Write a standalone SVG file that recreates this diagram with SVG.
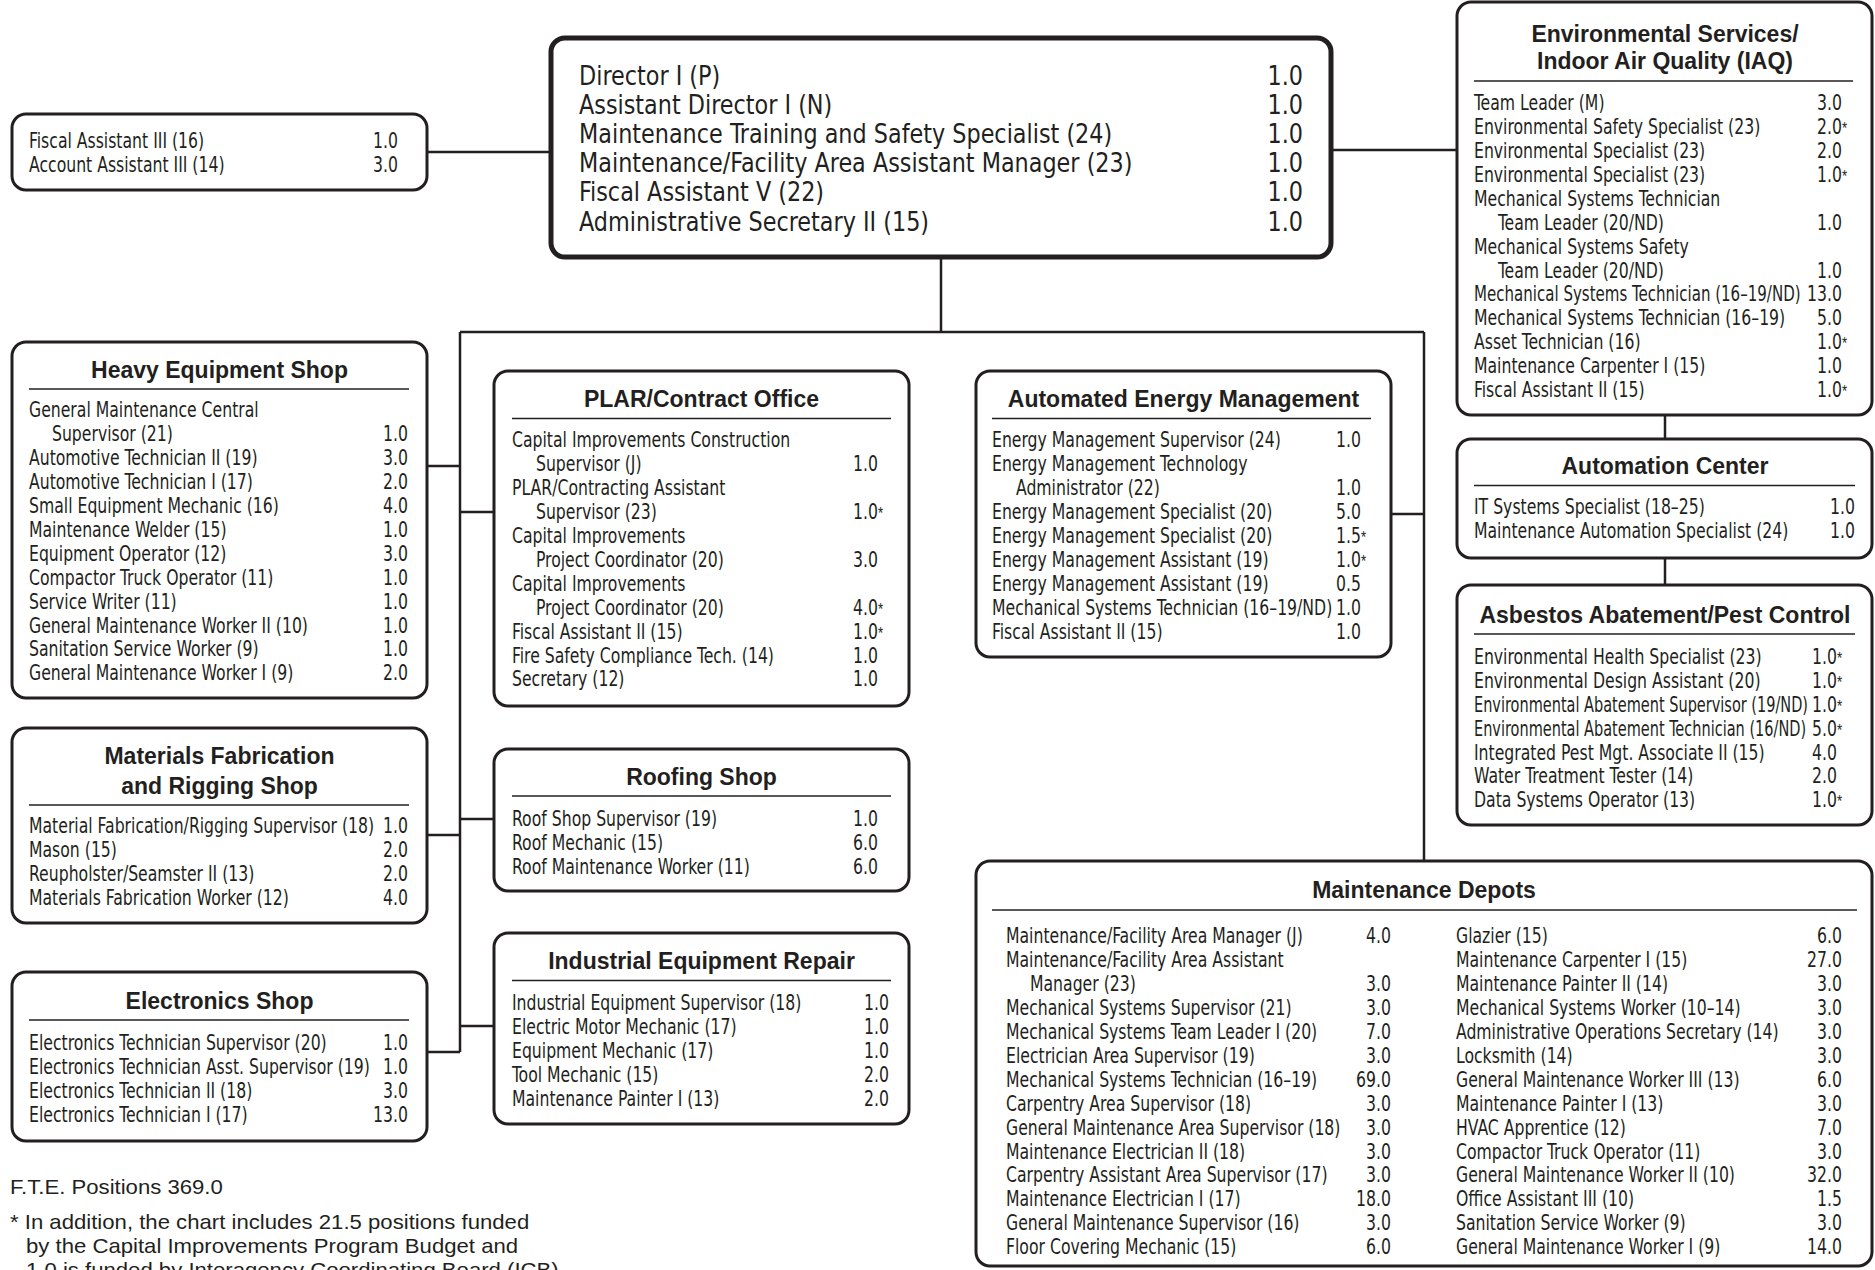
<svg xmlns="http://www.w3.org/2000/svg" width="1875" height="1270" viewBox="0 0 1875 1270">
<style>
.box{fill:#fff;stroke:#231f20;stroke-width:3}
.mainbox{fill:#fff;stroke:#231f20;stroke-width:5}
.rule{stroke:#231f20;stroke-width:1.5}
.conn{fill:none;stroke:#231f20;stroke-width:2.5}
text{fill:#231f20}
.t{font-family:"Liberation Sans Narrow","Arial Narrow","DejaVu Sans Condensed","Liberation Sans",sans-serif;font-stretch:condensed;font-size:21px}
.v{font-family:"Liberation Sans Narrow","Arial Narrow","DejaVu Sans Condensed","Liberation Sans",sans-serif;font-stretch:condensed;font-size:21px;text-anchor:end}
.a{font-family:"Liberation Sans",sans-serif;font-size:16px}
.m{font-family:"Liberation Sans Narrow","Arial Narrow","DejaVu Sans Condensed","Liberation Sans",sans-serif;font-stretch:condensed;font-size:26px}
.mv{font-family:"Liberation Sans Narrow","Arial Narrow","DejaVu Sans Condensed","Liberation Sans",sans-serif;font-stretch:condensed;font-size:26px;text-anchor:end}
.h{font-family:"Liberation Sans",sans-serif;font-weight:bold;font-size:23px;text-anchor:middle}
.f{font-family:"Liberation Sans",sans-serif;font-size:20.5px}
</style>

<g id="connectors">
<path class="conn" d="M427 152H551"/>
<path class="conn" d="M1331 150H1457"/>
<path class="conn" d="M941 257V332"/>
<path class="conn" d="M460 332H1424"/>
<path class="conn" d="M460 332V1052"/>
<path class="conn" d="M1424 332V861"/>
<path class="conn" d="M427 466H460"/>
<path class="conn" d="M427 835H460"/>
<path class="conn" d="M427 1052H460"/>
<path class="conn" d="M460 512H494"/>
<path class="conn" d="M460 819H494"/>
<path class="conn" d="M460 1026H494"/>
<path class="conn" d="M1391 514H1424"/>
<path class="conn" d="M1665 415V439"/>
<path class="conn" d="M1665 558V585"/>
</g>

<g id="fiscal">
<rect class="box" x="12" y="114" width="415" height="76" rx="14"/>
<g transform="translate(29 0) scale(0.83 1)">
<text class="t" x="0" y="148.5">Fiscal Assistant III (16)</text>
<text class="t" x="0" y="172.5">Account Assistant III (14)</text>
</g>
<g transform="translate(398 0) scale(0.83 1)">
<text class="v" x="0" y="148.5">1.0</text>
<text class="v" x="0" y="172.5">3.0</text>
</g>
</g>

<g id="director">
<rect class="mainbox" x="551" y="38" width="780" height="219" rx="14"/>
<g transform="translate(579 0) scale(0.955 1)">
<text class="m" x="0" y="85.5">Director I (P)</text>
<text class="m" x="0" y="114.5">Assistant Director I (N)</text>
<text class="m" x="0" y="143.5">Maintenance Training and Safety Specialist (24)</text>
<text class="m" x="0" y="172.5">Maintenance/Facility Area Assistant Manager (23)</text>
<text class="m" x="0" y="201.5">Fiscal Assistant V (22)</text>
<text class="m" x="0" y="231">Administrative Secretary II (15)</text>
</g>
<g transform="translate(1303 0) scale(0.955 1)">
<text class="mv" x="0" y="85.5">1.0</text>
<text class="mv" x="0" y="114.5">1.0</text>
<text class="mv" x="0" y="143.5">1.0</text>
<text class="mv" x="0" y="172.5">1.0</text>
<text class="mv" x="0" y="201.5">1.0</text>
<text class="mv" x="0" y="231">1.0</text>
</g>
</g>

<g id="env-services">
<rect class="box" x="1457" y="2" width="415" height="413" rx="14"/>
<text class="h" x="1665" y="41.5">Environmental Services/</text>
<text class="h" x="1665" y="69">Indoor Air Quality (IAQ)</text>
<line class="rule" x1="1474" y1="81" x2="1853" y2="81"/>
<g transform="translate(1474 0) scale(0.83 1)">
<text class="t" x="0" y="110.3">Team Leader (M)</text>
<text class="t" x="0" y="134.2">Environmental Safety Specialist (23)</text>
<text class="t" x="0" y="158.1">Environmental Specialist (23)</text>
<text class="t" x="0" y="182">Environmental Specialist (23)</text>
<text class="t" x="0" y="205.9">Mechanical Systems Technician</text>
<text class="t" x="28.9" y="229.8">Team Leader (20/ND)</text>
<text class="t" x="0" y="253.7">Mechanical Systems Safety</text>
<text class="t" x="28.9" y="277.6">Team Leader (20/ND)</text>
<g transform="scale(0.96 1)"><text class="t" x="0" y="301.5">Mechanical Systems Technician (16–19/ND)</text></g>
<text class="t" x="0" y="325.4">Mechanical Systems Technician (16–19)</text>
<text class="t" x="0" y="349.3">Asset Technician (16)</text>
<text class="t" x="0" y="373.2">Maintenance Carpenter I (15)</text>
<text class="t" x="0" y="397.1">Fiscal Assistant II (15)</text>
</g>
<g transform="translate(1842 0) scale(0.83 1)">
<text class="v" x="0" y="110.3">3.0</text>
<text class="v" x="0" y="134.2">2.0</text><text class="a" x="0" y="134.2">*</text>
<text class="v" x="0" y="158.1">2.0</text>
<text class="v" x="0" y="182">1.0</text><text class="a" x="0" y="182">*</text>
<text class="v" x="0" y="229.8">1.0</text>
<text class="v" x="0" y="277.6">1.0</text>
<text class="v" x="0" y="301.5">13.0</text>
<text class="v" x="0" y="325.4">5.0</text>
<text class="v" x="0" y="349.3">1.0</text><text class="a" x="0" y="349.3">*</text>
<text class="v" x="0" y="373.2">1.0</text>
<text class="v" x="0" y="397.1">1.0</text><text class="a" x="0" y="397.1">*</text>
</g>
</g>

<g id="automation-center">
<rect class="box" x="1457" y="439" width="415" height="119" rx="14"/>
<text class="h" x="1665" y="474">Automation Center</text>
<line class="rule" x1="1474" y1="485.5" x2="1855" y2="485.5"/>
<g transform="translate(1474 0) scale(0.83 1)">
<text class="t" x="0" y="514.5">IT Systems Specialist (18–25)</text>
<text class="t" x="0" y="538.4">Maintenance Automation Specialist (24)</text>
</g>
<g transform="translate(1855 0) scale(0.83 1)">
<text class="v" x="0" y="514.5">1.0</text>
<text class="v" x="0" y="538.4">1.0</text>
</g>
</g>

<g id="asbestos">
<rect class="box" x="1457" y="585" width="415" height="240" rx="14"/>
<text class="h" x="1665" y="623">Asbestos Abatement/Pest Control</text>
<line class="rule" x1="1474" y1="634" x2="1855" y2="634"/>
<g transform="translate(1474 0) scale(0.83 1)">
<text class="t" x="0" y="664">Environmental Health Specialist (23)</text>
<text class="t" x="0" y="687.9">Environmental Design Assistant (20)</text>
<g transform="scale(0.925 1)">
<text class="t" x="0" y="711.8">Environmental Abatement Supervisor (19/ND)</text>
<text class="t" x="0" y="735.7">Environmental Abatement Technician (16/ND)</text>
</g>
<text class="t" x="0" y="759.6">Integrated Pest Mgt. Associate II (15)</text>
<text class="t" x="0" y="783.5">Water Treatment Tester (14)</text>
<text class="t" x="0" y="807.4">Data Systems Operator (13)</text>
</g>
<g transform="translate(1837 0) scale(0.83 1)">
<text class="v" x="0" y="664">1.0</text><text class="a" x="0" y="664">*</text>
<text class="v" x="0" y="687.9">1.0</text><text class="a" x="0" y="687.9">*</text>
<text class="v" x="0" y="711.8">1.0</text><text class="a" x="0" y="711.8">*</text>
<text class="v" x="0" y="735.7">5.0</text><text class="a" x="0" y="735.7">*</text>
<text class="v" x="0" y="759.6">4.0</text>
<text class="v" x="0" y="783.5">2.0</text>
<text class="v" x="0" y="807.4">1.0</text><text class="a" x="0" y="807.4">*</text>
</g>
</g>

<g id="heavy-equipment">
<rect class="box" x="12" y="342" width="415" height="356" rx="14"/>
<text class="h" x="219.5" y="378">Heavy Equipment Shop</text>
<line class="rule" x1="29" y1="389" x2="409" y2="389"/>
<g transform="translate(29 0) scale(0.83 1)">
<text class="t" x="0" y="417.5">General Maintenance Central</text>
<text class="t" x="27.7" y="441.4">Supervisor (21)</text>
<text class="t" x="0" y="465.3">Automotive Technician II (19)</text>
<text class="t" x="0" y="489.2">Automotive Technician I (17)</text>
<text class="t" x="0" y="513.1">Small Equipment Mechanic (16)</text>
<text class="t" x="0" y="537">Maintenance Welder (15)</text>
<text class="t" x="0" y="560.9">Equipment Operator (12)</text>
<text class="t" x="0" y="584.8">Compactor Truck Operator (11)</text>
<text class="t" x="0" y="608.7">Service Writer (11)</text>
<text class="t" x="0" y="632.6">General Maintenance Worker II (10)</text>
<text class="t" x="0" y="656.5">Sanitation Service Worker (9)</text>
<text class="t" x="0" y="680.4">General Maintenance Worker I (9)</text>
</g>
<g transform="translate(408 0) scale(0.83 1)">
<text class="v" x="0" y="441.4">1.0</text>
<text class="v" x="0" y="465.3">3.0</text>
<text class="v" x="0" y="489.2">2.0</text>
<text class="v" x="0" y="513.1">4.0</text>
<text class="v" x="0" y="537">1.0</text>
<text class="v" x="0" y="560.9">3.0</text>
<text class="v" x="0" y="584.8">1.0</text>
<text class="v" x="0" y="608.7">1.0</text>
<text class="v" x="0" y="632.6">1.0</text>
<text class="v" x="0" y="656.5">1.0</text>
<text class="v" x="0" y="680.4">2.0</text>
</g>
</g>

<g id="materials-fabrication">
<rect class="box" x="12" y="728" width="415" height="195" rx="14"/>
<text class="h" x="219.5" y="764">Materials Fabrication</text>
<text class="h" x="219.5" y="794">and Rigging Shop</text>
<line class="rule" x1="29" y1="805" x2="409" y2="805"/>
<g transform="translate(29 0) scale(0.83 1)">
<text class="t" x="0" y="833.5">Material Fabrication/Rigging Supervisor (18)</text>
<text class="t" x="0" y="857.4">Mason (15)</text>
<text class="t" x="0" y="881.3">Reupholster/Seamster II (13)</text>
<text class="t" x="0" y="905.2">Materials Fabrication Worker (12)</text>
</g>
<g transform="translate(408 0) scale(0.83 1)">
<text class="v" x="0" y="833.5">1.0</text>
<text class="v" x="0" y="857.4">2.0</text>
<text class="v" x="0" y="881.3">2.0</text>
<text class="v" x="0" y="905.2">4.0</text>
</g>
</g>

<g id="electronics">
<rect class="box" x="12" y="972" width="415" height="169" rx="14"/>
<text class="h" x="219.5" y="1009">Electronics Shop</text>
<line class="rule" x1="29" y1="1020" x2="409" y2="1020"/>
<g transform="translate(29 0) scale(0.83 1)">
<text class="t" x="0" y="1050.5">Electronics Technician Supervisor (20)</text>
<text class="t" x="0" y="1074.4">Electronics Technician Asst. Supervisor (19)</text>
<text class="t" x="0" y="1098.3">Electronics Technician II (18)</text>
<text class="t" x="0" y="1122.2">Electronics Technician I (17)</text>
</g>
<g transform="translate(408 0) scale(0.83 1)">
<text class="v" x="0" y="1050.5">1.0</text>
<text class="v" x="0" y="1074.4">1.0</text>
<text class="v" x="0" y="1098.3">3.0</text>
<text class="v" x="0" y="1122.2">13.0</text>
</g>
</g>

<g id="plar-contract">
<rect class="box" x="494" y="371" width="415" height="335" rx="14"/>
<text class="h" x="701.5" y="407">PLAR/Contract Office</text>
<line class="rule" x1="512" y1="418.5" x2="891" y2="418.5"/>
<g transform="translate(512 0) scale(0.83 1)">
<text class="t" x="0" y="447.5">Capital Improvements Construction</text>
<text class="t" x="28.9" y="471.4">Supervisor (J)</text>
<text class="t" x="0" y="495.3">PLAR/Contracting Assistant</text>
<text class="t" x="28.9" y="519.2">Supervisor (23)</text>
<text class="t" x="0" y="543.1">Capital Improvements</text>
<text class="t" x="28.9" y="567">Project Coordinator (20)</text>
<text class="t" x="0" y="590.9">Capital Improvements</text>
<text class="t" x="28.9" y="614.8">Project Coordinator (20)</text>
<text class="t" x="0" y="638.7">Fiscal Assistant II (15)</text>
<text class="t" x="0" y="662.6">Fire Safety Compliance Tech. (14)</text>
<text class="t" x="0" y="686.5">Secretary (12)</text>
</g>
<g transform="translate(878 0) scale(0.83 1)">
<text class="v" x="0" y="471.4">1.0</text>
<text class="v" x="0" y="519.2">1.0</text><text class="a" x="0" y="519.2">*</text>
<text class="v" x="0" y="567">3.0</text>
<text class="v" x="0" y="614.8">4.0</text><text class="a" x="0" y="614.8">*</text>
<text class="v" x="0" y="638.7">1.0</text><text class="a" x="0" y="638.7">*</text>
<text class="v" x="0" y="662.6">1.0</text>
<text class="v" x="0" y="686.5">1.0</text>
</g>
</g>

<g id="roofing">
<rect class="box" x="494" y="749" width="415" height="142" rx="14"/>
<text class="h" x="701.5" y="785">Roofing Shop</text>
<line class="rule" x1="512" y1="796" x2="891" y2="796"/>
<g transform="translate(512 0) scale(0.83 1)">
<text class="t" x="0" y="826.5">Roof Shop Supervisor (19)</text>
<text class="t" x="0" y="850.4">Roof Mechanic (15)</text>
<text class="t" x="0" y="874.3">Roof Maintenance Worker (11)</text>
</g>
<g transform="translate(878 0) scale(0.83 1)">
<text class="v" x="0" y="826.5">1.0</text>
<text class="v" x="0" y="850.4">6.0</text>
<text class="v" x="0" y="874.3">6.0</text>
</g>
</g>

<g id="industrial-equipment">
<rect class="box" x="494" y="933" width="415" height="191" rx="14"/>
<text class="h" x="701.5" y="969">Industrial Equipment Repair</text>
<line class="rule" x1="512" y1="980.5" x2="891" y2="980.5"/>
<g transform="translate(512 0) scale(0.83 1)">
<text class="t" x="0" y="1010.5">Industrial Equipment Supervisor (18)</text>
<text class="t" x="0" y="1034.4">Electric Motor Mechanic (17)</text>
<text class="t" x="0" y="1058.3">Equipment Mechanic (17)</text>
<text class="t" x="0" y="1082.2">Tool Mechanic (15)</text>
<text class="t" x="0" y="1106.1">Maintenance Painter I (13)</text>
</g>
<g transform="translate(889 0) scale(0.83 1)">
<text class="v" x="0" y="1010.5">1.0</text>
<text class="v" x="0" y="1034.4">1.0</text>
<text class="v" x="0" y="1058.3">1.0</text>
<text class="v" x="0" y="1082.2">2.0</text>
<text class="v" x="0" y="1106.1">2.0</text>
</g>
</g>

<g id="energy-management">
<rect class="box" x="976" y="371" width="415" height="286" rx="14"/>
<text class="h" x="1183.5" y="407">Automated Energy Management</text>
<line class="rule" x1="992" y1="418.5" x2="1371" y2="418.5"/>
<g transform="translate(992 0) scale(0.83 1)">
<text class="t" x="0" y="447.5">Energy Management Supervisor (24)</text>
<text class="t" x="0" y="471.4">Energy Management Technology</text>
<text class="t" x="28.9" y="495.3">Administrator (22)</text>
<text class="t" x="0" y="519.2">Energy Management Specialist (20)</text>
<text class="t" x="0" y="543.1">Energy Management Specialist (20)</text>
<text class="t" x="0" y="567">Energy Management Assistant (19)</text>
<text class="t" x="0" y="590.9">Energy Management Assistant (19)</text>
<text class="t" x="0" y="614.8">Mechanical Systems Technician (16–19/ND)</text>
<text class="t" x="0" y="638.7">Fiscal Assistant II (15)</text>
</g>
<g transform="translate(1361 0) scale(0.83 1)">
<text class="v" x="0" y="447.5">1.0</text>
<text class="v" x="0" y="495.3">1.0</text>
<text class="v" x="0" y="519.2">5.0</text>
<text class="v" x="0" y="543.1">1.5</text><text class="a" x="0" y="543.1">*</text>
<text class="v" x="0" y="567">1.0</text><text class="a" x="0" y="567">*</text>
<text class="v" x="0" y="590.9">0.5</text>
<text class="v" x="0" y="614.8">1.0</text>
<text class="v" x="0" y="638.7">1.0</text>
</g>
</g>

<g id="maintenance-depots">
<rect class="box" x="976" y="861" width="896" height="405" rx="14"/>
<text class="h" x="1424" y="898">Maintenance Depots</text>
<line class="rule" x1="992" y1="910" x2="1857" y2="910"/>
<g transform="translate(1006 0) scale(0.83 1)">
<text class="t" x="0" y="943.5">Maintenance/Facility Area Manager (J)</text>
<text class="t" x="0" y="967.4">Maintenance/Facility Area Assistant</text>
<text class="t" x="28.9" y="991.3">Manager (23)</text>
<text class="t" x="0" y="1015.2">Mechanical Systems Supervisor (21)</text>
<text class="t" x="0" y="1039.1">Mechanical Systems Team Leader I (20)</text>
<text class="t" x="0" y="1063">Electrician Area Supervisor (19)</text>
<text class="t" x="0" y="1086.9">Mechanical Systems Technician (16–19)</text>
<text class="t" x="0" y="1110.8">Carpentry Area Supervisor (18)</text>
<text class="t" x="0" y="1134.7">General Maintenance Area Supervisor (18)</text>
<text class="t" x="0" y="1158.6">Maintenance Electrician II (18)</text>
<text class="t" x="0" y="1182.5">Carpentry Assistant Area Supervisor (17)</text>
<text class="t" x="0" y="1206.4">Maintenance Electrician I (17)</text>
<text class="t" x="0" y="1230.3">General Maintenance Supervisor (16)</text>
<text class="t" x="0" y="1254.2">Floor Covering Mechanic (15)</text>
</g>
<g transform="translate(1391 0) scale(0.83 1)">
<text class="v" x="0" y="943.5">4.0</text>
<text class="v" x="0" y="991.3">3.0</text>
<text class="v" x="0" y="1015.2">3.0</text>
<text class="v" x="0" y="1039.1">7.0</text>
<text class="v" x="0" y="1063">3.0</text>
<text class="v" x="0" y="1086.9">69.0</text>
<text class="v" x="0" y="1110.8">3.0</text>
<text class="v" x="0" y="1134.7">3.0</text>
<text class="v" x="0" y="1158.6">3.0</text>
<text class="v" x="0" y="1182.5">3.0</text>
<text class="v" x="0" y="1206.4">18.0</text>
<text class="v" x="0" y="1230.3">3.0</text>
<text class="v" x="0" y="1254.2">6.0</text>
</g>
<g transform="translate(1456 0) scale(0.83 1)">
<text class="t" x="0" y="943.5">Glazier (15)</text>
<text class="t" x="0" y="967.4">Maintenance Carpenter I (15)</text>
<text class="t" x="0" y="991.3">Maintenance Painter II (14)</text>
<text class="t" x="0" y="1015.2">Mechanical Systems Worker (10–14)</text>
<text class="t" x="0" y="1039.1">Administrative Operations Secretary (14)</text>
<text class="t" x="0" y="1063">Locksmith (14)</text>
<text class="t" x="0" y="1086.9">General Maintenance Worker III (13)</text>
<text class="t" x="0" y="1110.8">Maintenance Painter I (13)</text>
<text class="t" x="0" y="1134.7">HVAC Apprentice (12)</text>
<text class="t" x="0" y="1158.6">Compactor Truck Operator (11)</text>
<text class="t" x="0" y="1182.5">General Maintenance Worker II (10)</text>
<text class="t" x="0" y="1206.4">Office Assistant III (10)</text>
<text class="t" x="0" y="1230.3">Sanitation Service Worker (9)</text>
<text class="t" x="0" y="1254.2">General Maintenance Worker I (9)</text>
</g>
<g transform="translate(1842 0) scale(0.83 1)">
<text class="v" x="0" y="943.5">6.0</text>
<text class="v" x="0" y="967.4">27.0</text>
<text class="v" x="0" y="991.3">3.0</text>
<text class="v" x="0" y="1015.2">3.0</text>
<text class="v" x="0" y="1039.1">3.0</text>
<text class="v" x="0" y="1063">3.0</text>
<text class="v" x="0" y="1086.9">6.0</text>
<text class="v" x="0" y="1110.8">3.0</text>
<text class="v" x="0" y="1134.7">7.0</text>
<text class="v" x="0" y="1158.6">3.0</text>
<text class="v" x="0" y="1182.5">32.0</text>
<text class="v" x="0" y="1206.4">1.5</text>
<text class="v" x="0" y="1230.3">3.0</text>
<text class="v" x="0" y="1254.2">14.0</text>
</g>
</g>

<g id="footnote">
<g transform="translate(10 0) scale(1.08 1)">
<text class="f" x="0" y="1194">F.T.E. Positions 369.0</text>
<text class="f" x="0" y="1229">* In addition, the chart includes 21.5 positions funded</text>
<text class="f" x="14.8" y="1253">by the Capital Improvements Program Budget and</text>
<text class="f" x="14.8" y="1277">1.0 is funded by Interagency Coordinating Board (ICB)</text>
</g>
</g>
</svg>
